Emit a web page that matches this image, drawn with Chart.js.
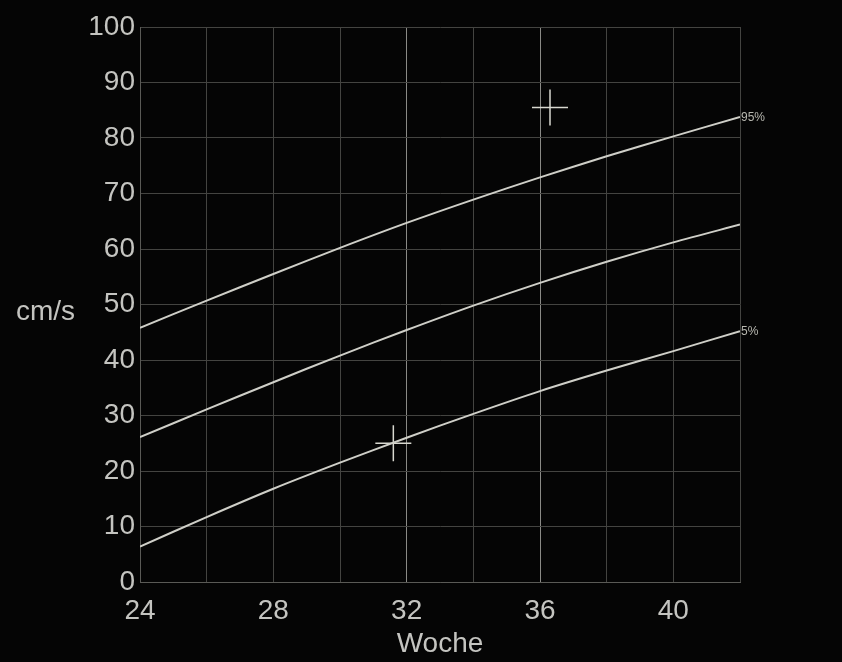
<!DOCTYPE html>
<html>
<head>
<meta charset="utf-8">
<script src="https://cdn.jsdelivr.net/npm/chart.js@4"></script>
<style>
  html, body { margin: 0; padding: 0; background: #050505; }
  #wrap { width: 842px; height: 662px; }
</style>
</head>
<body>
<div id="wrap"><canvas id="chart" width="842" height="662"></canvas></div>
<script>
// Gestationswoche und Perzentilen (cm/s)
const weeks = [24, 26, 28, 30, 32, 34, 36, 38, 40, 42];
const p95 = [45.8, 50.7, 55.5, 60.2, 64.7, 68.9, 72.9, 76.7, 80.3, 83.8];
const p50 = [26.1, 31.1, 36.0, 40.8, 45.4, 49.8, 53.9, 57.7, 61.2, 64.4];
const p5 = [6.4, 11.7, 16.8, 21.5, 26.0, 30.3, 34.4, 38.1, 41.6, 45.2];
const markX = [36.3, 31.6];
const markY = [85.5, 25.0];
const curveLabels = ['95%', '', '5%'];

const TXT = '#c4c4c0';
const LINE = '#cfcfc8';
const FONT = '"Liberation Sans", Arial, sans-serif';

const toPts = vals => weeks.map((w, i) => ({ x: w, y: vals[i] }));

const curve = (label, vals) => ({
    label: label,
    data: toPts(vals),
    borderColor: LINE,
    borderWidth: 2,
    pointRadius: 0,
    tension: 0.3,
    fill: false
});

const ctx = document.getElementById('chart').getContext('2d');
new Chart(ctx, {
    type: 'line',
    data: {
        datasets: [
            curve('95%', p95),
            curve('50%', p50),
            curve('5%', p5),
            {
                label: 'Messung',
                data: markX.map((x, i) => ({ x: x, y: markY[i] })),
                showLine: false,
                pointStyle: 'cross',
                pointRadius: 18,
                pointBorderWidth: 1.5,
                pointBorderColor: '#d8d8d0',
                borderColor: '#d8d8d0'
            }
        ]
    },
    options: {
        responsive: false,
        animation: false,
        layout: { padding: { top: 27, right: 102, left: 0, bottom: 0 } },
        scales: {
            x: {
                type: 'linear',
                min: 24,
                max: 42,
                afterFit(s) { s.height = 80; },
                ticks: {
                    stepSize: 2,
                    autoSkip: false,
                    maxRotation: 0,
                    padding: 12,
                    color: TXT,
                    font: { family: FONT, size: 28 },
                    callback: v => (v % 4 === 0 && v < 42) ? v : ''
                },
                grid: {
                    drawTicks: false,
                    color: c => (c.tick && (c.tick.value === 32 || c.tick.value === 36)) ? '#8a8a86' : '#444441',
                    lineWidth: 1
                },
                border: { color: '#5a5a56' },
                title: {
                    display: true,
                    text: 'Woche',
                    color: TXT,
                    font: { family: FONT, size: 28 },
                    padding: { top: 2, bottom: 1 }
                }
            },
            y: {
                min: 0,
                max: 100,
                afterFit(s) { s.width = 140; },
                ticks: {
                    stepSize: 10,
                    padding: 5,
                    color: TXT,
                    font: { family: FONT, size: 28 }
                },
                grid: { drawTicks: false, color: '#444441', lineWidth: 1 },
                border: { color: '#5a5a56' }
            }
        },
        plugins: {
            legend: { display: false },
            tooltip: { enabled: false }
        }
    },
    plugins: [{
        id: 'extras',
        beforeDraw(chart) {
            const c = chart.ctx;
            c.save();
            c.fillStyle = '#050505';
            c.fillRect(0, 0, chart.width, chart.height);
            c.restore();
        },
        afterDraw(chart) {
            const c = chart.ctx;
            const { x, y } = chart.scales;
            c.save();
            // Achsentitel waagerecht
            c.fillStyle = TXT;
            c.font = '28px ' + FONT;
            c.textAlign = 'left';
            c.textBaseline = 'middle';
            c.fillText('cm/s', 16, 312);
            // Perzentil-Beschriftungen am Kurvenende
            c.font = '12px ' + FONT;
            c.fillStyle = '#b8b8b0';
            curveLabels.forEach((lbl, i) => {
                if (!lbl) return;
                const pts = chart.data.datasets[i].data;
                const last = pts[pts.length - 1];
                c.fillText(lbl, x.getPixelForValue(last.x) + 1, y.getPixelForValue(last.y) + 1);
            });
            c.restore();
        }
    }]
});
</script>
</body>
</html>
